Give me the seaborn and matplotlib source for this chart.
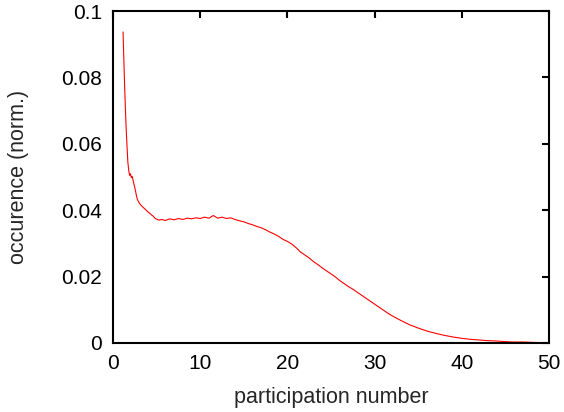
import matplotlib
matplotlib.use("Agg")
import matplotlib.pyplot as plt
import pandas as pd
import seaborn as sns

# Values
participation = [1.15, 1.2, 1.3, 1.4, 1.5, 1.6, 1.7, 1.8, 1.9, 2.0, 2.1, 2.2, 2.3, 2.4, 2.5,
                 2.6, 2.7, 2.8, 3.0, 3.2, 3.4, 3.6, 3.8, 4.0, 4.2, 4.4, 4.6, 4.8, 5.0,
                 5.3, 5.6, 6.0, 6.5, 7.0, 7.5, 8.0, 8.5, 9.0, 9.5, 10.0, 10.5, 11.0,
                 11.5, 12.0, 12.5, 13.0, 13.5, 14.0, 14.5, 15.0, 15.5, 16.0, 16.5,
                 17.0, 17.5, 18.0, 18.5, 19.0, 19.5, 20.0, 20.5, 21.0, 21.5, 22.0,
                 22.5, 23.0, 23.5, 24.0, 24.5, 25.0, 25.5, 26.0, 26.5, 27.0, 27.5,
                 28.0, 28.5, 29.0, 29.5, 30.0, 30.5, 31.0, 31.5, 32.0, 33.0, 34.0,
                 35.0, 36.0, 37.0, 38.0, 39.0, 40.0, 41.0, 42.0, 43.0, 44.0, 45.0,
                 46.0, 47.0, 48.0, 49.0, 50.0]
occurence = [0.0937, 0.0890, 0.0800, 0.0720, 0.0650, 0.0595, 0.0545, 0.0520, 0.0505,
             0.0510, 0.0498, 0.0502, 0.0490, 0.0478, 0.0468, 0.0455, 0.0442, 0.0432,
             0.0422, 0.0415, 0.0410, 0.0405, 0.0400, 0.0395, 0.0391, 0.0386, 0.0382,
             0.0376, 0.0373, 0.0370, 0.0372, 0.0369, 0.0374, 0.0371, 0.0375, 0.0372,
             0.0376, 0.0374, 0.0377, 0.0375, 0.0379, 0.0376, 0.0384, 0.0376, 0.0379,
             0.0375, 0.0377, 0.0372, 0.0368, 0.0365, 0.0360, 0.0356, 0.0351, 0.0347,
             0.0341, 0.0334, 0.0328, 0.0321, 0.0312, 0.0306, 0.0298, 0.0287, 0.0274,
             0.0265, 0.0256, 0.0245, 0.0236, 0.0226, 0.0217, 0.0208, 0.0199, 0.0188,
             0.0179, 0.0170, 0.0162, 0.0153, 0.0144, 0.0135, 0.0126, 0.0117, 0.0108,
             0.0099, 0.0090, 0.0082, 0.0068, 0.0055, 0.0045, 0.0036, 0.0029, 0.0023,
             0.0018, 0.0014, 0.0011, 0.0009, 0.0007, 0.0006, 0.0004, 0.0003, 0.0003,
             0.0002, 0.0001, 0.0001]

x_ticks = [0, 10, 20, 30, 40, 50]
y_ticks = [0, 0.02, 0.04, 0.06, 0.08, 0.1]
y_tick_labels = ["0", "0.02", "0.04", "0.06", "0.08", "0.1"]

data = pd.DataFrame({"participation": participation, "occurence": occurence})

sns.set_style("white")
plt.rcParams["font.family"] = ["Liberation Sans", "DejaVu Sans"]

fig = plt.figure(figsize=(5.64, 4.12), dpi=100)
ax = fig.add_axes([0.2004, 0.1675, 0.773, 0.8058])

sns.lineplot(x="participation", y="occurence", data=data, color="red",
             linewidth=0.8, ax=ax)

ax.set_xlim(0, 50)
ax.set_ylim(0, 0.1)
ax.set_xticks(x_ticks)
ax.set_xticklabels([str(t) for t in x_ticks])
ax.set_yticks(y_ticks)
ax.set_yticklabels(y_tick_labels)

ax.tick_params(axis="both", direction="in", top=True, right=True,
               length=5, width=1.5, labelsize=15, pad=8, colors="black")
for spine in ax.spines.values():
    spine.set_linewidth(1.5)
    spine.set_color("black")

ax.set_xlabel("participation number", fontsize=15.5, labelpad=10)
ax.set_ylabel("occurence (norm.)", fontsize=15.5, labelpad=23)

fig.savefig("out.png", dpi=100)
